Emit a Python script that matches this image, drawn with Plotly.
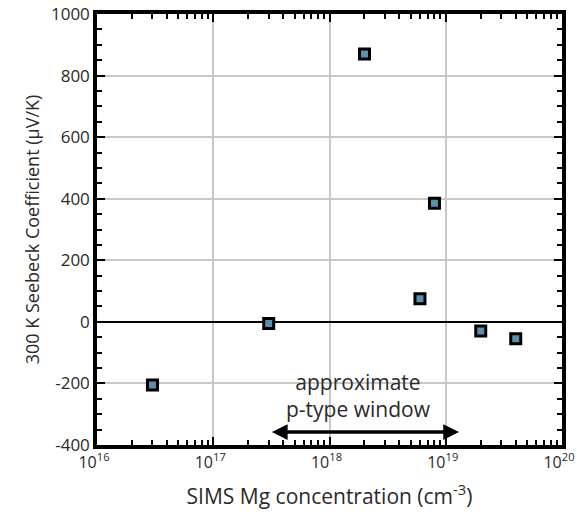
import math
import plotly.graph_objects as go

# Data
mg_conc = [3e16, 3e17, 2e18, 6e18, 8e18, 2e19, 4e19]
seebeck = [-205, -5, 870, 75, 385, -30, -55]

x_tick_vals = [1e16, 1e17, 1e18, 1e19, 1e20]
x_tick_text = ["10<sup>16</sup>", "10<sup>17</sup>", "10<sup>18</sup>", "10<sup>19</sup>", "10<sup>20</sup>"]
y_tick_vals = [-400, -200, 0, 200, 400, 600, 800, 1000]
y_tick_text = ["-400", "-200", "0", "200", "400", "600", "800", "1000"]

window_range = [3.1e17, 1.3e19]
window_y = -358
window_label = "approximate<br>p-type window"

FONT = "Open Sans"
TXT = "#2a2a2a"

x_minor = [float(m) * 10.0 ** d for d in range(16, 20) for m in range(2, 10)]

fig = go.Figure()
fig.add_trace(go.Scatter(
    x=mg_conc, y=seebeck, mode="markers",
    marker=dict(symbol="square", size=10, color="#5b8fb0",
                line=dict(color="black", width=3)),
    showlegend=False, hoverinfo="skip",
))
# invisible twin trace so the mirrored top/right axes are drawn
fig.add_trace(go.Scatter(
    x=mg_conc, y=seebeck, mode="markers", xaxis="x2", yaxis="y2",
    marker=dict(opacity=0), showlegend=False, hoverinfo="skip",
))

lo, hi = math.log10(window_range[0]), math.log10(window_range[1])
fig.add_annotation(
    x=hi, y=window_y, ax=lo, ay=window_y, xref="x", yref="y", axref="x", ayref="y",
    text="", showarrow=True, arrowhead=2, arrowside="end+start", arrowwidth=3.5,
    arrowsize=0.9, arrowcolor="black",
)
fig.add_annotation(
    x=(lo + hi) / 2 - 0.05, y=window_y + 22, xref="x", yref="y", text=window_label,
    showarrow=False, yanchor="bottom", font=dict(family=FONT, size=21, color=TXT),
)

tick_common = dict(ticks="inside", ticklen=8, tickwidth=2, tickcolor="black",
                   automargin=False)
minor_common = dict(ticks="inside", ticklen=5, tickwidth=1.5, tickcolor="black",
                    showgrid=False)

fig.update_layout(
    width=577, height=515,
    margin=dict(l=97, r=15, t=14, b=70),
    plot_bgcolor="white", paper_bgcolor="white",
    font=dict(family=FONT),
    xaxis=dict(
        type="log", range=[16, 20], tickvals=x_tick_vals, ticktext=x_tick_text,
        showline=True, linecolor="black", linewidth=3.5,
        showgrid=True, gridcolor="#c8c8c8", gridwidth=1.5, zeroline=False,
        tickfont=dict(family=FONT, size=16, color=TXT), ticklabeloverflow="allow",
        ticklabelshift=-3,
        title=dict(text="SIMS Mg concentration (cm<sup>-3</sup>)",
                   font=dict(family=FONT, size=21, color=TXT), standoff=18),
        minor=dict(tickvals=x_minor, **minor_common), **tick_common,
    ),
    xaxis2=dict(
        type="log", range=[16, 20], tickvals=x_tick_vals, overlaying="x", side="top",
        showticklabels=False, showline=True, linecolor="black", linewidth=3.5,
        showgrid=False, zeroline=False,
        minor=dict(tickvals=x_minor, **minor_common), **tick_common,
    ),
    yaxis=dict(
        range=[-400, 1000], tickvals=y_tick_vals, ticktext=y_tick_text,
        showline=True, linecolor="black", linewidth=3.5,
        showgrid=True, gridcolor="#c8c8c8", gridwidth=1.5,
        zeroline=True, zerolinecolor="black", zerolinewidth=1.5,
        tickfont=dict(family=FONT, size=17, color=TXT), ticklabeloverflow="allow",
        title=dict(text="300 K Seebeck Coefficient (μV/K)",
                   font=dict(family=FONT, size=18, color=TXT), standoff=8),
        minor=dict(dtick=50, **minor_common), **tick_common,
    ),
    yaxis2=dict(
        range=[-400, 1000], tickvals=y_tick_vals, overlaying="y", side="right",
        showticklabels=False, showline=True, linecolor="black", linewidth=3.5,
        showgrid=False, zeroline=False,
        minor=dict(dtick=50, **minor_common), **tick_common,
    ),
)

fig.write_html("out.html")
